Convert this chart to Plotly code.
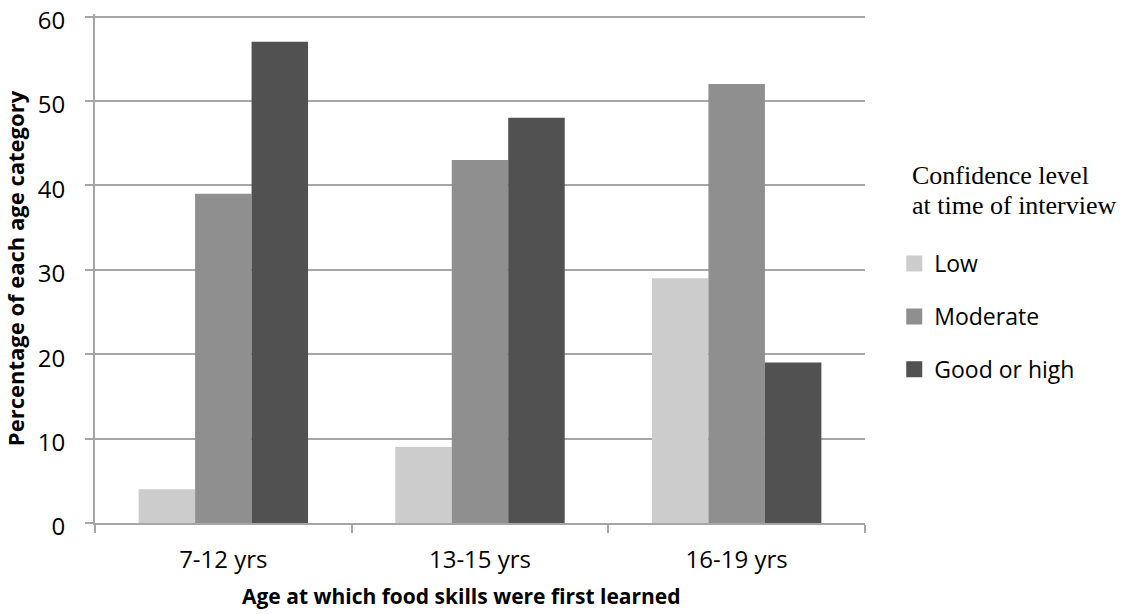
import plotly.graph_objects as go

# Age groups at which food skills were first learned
age_groups = ["7-12 yrs", "13-15 yrs", "16-19 yrs"]

# Percentage of each age category by confidence level
low = [4, 9, 29]
moderate = [39, 43, 52]
good_or_high = [57, 48, 19]

series = [
    ("Low", low, "#CCCCCC"),
    ("Moderate", moderate, "#8F8F8F"),
    ("Good or high", good_or_high, "#515151"),
]

legend_title_lines = ["Confidence level", "at time of interview"]
x_title = "Age at which food skills were first learned"
y_title = "Percentage of each age category"

sans = "Open Sans, Liberation Sans, Arial, sans-serif"
serif = "Liberation Serif, Times New Roman, serif"
axis_grey = "#A6A6A6"

fig = go.Figure()
for name, values, color in series:
    fig.add_trace(go.Bar(
        x=age_groups, y=values, name=name, legendgroup=name, showlegend=False,
        marker=dict(color=color, line=dict(width=0)),
    ))
    # larger square swatch for the legend entry
    fig.add_trace(go.Scatter(
        x=[None], y=[None], mode="markers", name=name, legendgroup=name,
        marker=dict(symbol="square", size=16, color=color),
    ))

# legend heading, one annotation per line for tight line spacing
for line, ypos in zip(legend_title_lines, [0.6824, 0.6233]):
    fig.add_annotation(
        text=line, xref="paper", yref="paper", x=1.058, y=ypos,
        xanchor="left", yanchor="middle", showarrow=False,
        font=dict(family=serif, size=26, color="#000000"),
    )

# x-axis title, set slightly left of the plot centre
fig.add_annotation(
    text=f"<b>{x_title}</b>", xref="paper", yref="paper", x=0.476, y=-0.144,
    xanchor="center", yanchor="middle", showarrow=False,
    font=dict(family=sans, size=21, color="#000000"),
)

fig.update_layout(
    width=1128, height=614,
    margin=dict(l=95, r=263, t=14, b=91),
    paper_bgcolor="white", plot_bgcolor="white",
    barmode="group", bargap=0.34, bargroupgap=0,
    font=dict(family=sans, size=24, color="#000000"),
    legend=dict(
        x=1.038, xanchor="left", y=0.552, yanchor="top",
        font=dict(family=sans, size=23),
        itemsizing="trace",
        traceorder="grouped", tracegroupgap=20,
    ),
)

fig.update_xaxes(
    automargin=False,
    showline=True, linecolor=axis_grey, linewidth=2,
    ticks="outside", tickson="boundaries", ticklen=8, tickwidth=2, tickcolor=axis_grey,
    ticklabelstandoff=14,
    tickfont=dict(size=24),
)
fig.update_yaxes(
    automargin=False,
    range=[0, 60.3], tick0=0, dtick=10,
    showline=True, linecolor=axis_grey, linewidth=2,
    showgrid=True, gridcolor=axis_grey, gridwidth=1.5,
    ticks="outside", ticklen=8, tickwidth=2, tickcolor=axis_grey,
    ticklabelstandoff=15, ticklabelshift=4, ticklabeloverflow="allow",
    tickfont=dict(size=24),
    zeroline=False,
    title=dict(text=f"<b>{y_title}</b>", font=dict(size=22), standoff=7),
)

fig.write_html("out.html")
